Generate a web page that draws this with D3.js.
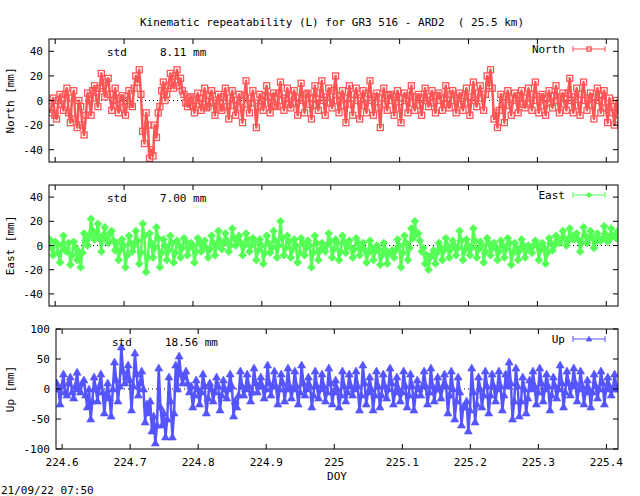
<!DOCTYPE html>
<html><head><meta charset="utf-8">
<script src="https://cdn.jsdelivr.net/npm/d3@7"></script>
<style>body{margin:0;background:#fff}text{font-family:"DejaVu Sans Mono",monospace;font-size:11px;white-space:pre}</style>
</head><body><svg id="c" width="640" height="496"></svg>
<script>
const doyStart = 224.592, doyStep = 0.005;
const northVals = [-10,2,-15,5,-8,10,-18,8,-22,-5,
-28,6,-12,12,-5,22,3,18,-8,10,
-10,4,-12,8,-5,20,25,-25,-10,-47,
-45,-30,-5,15,5,22,10,25,18,5,
-5,3,-10,6,-8,10,-5,8,-12,5,
-8,10,-15,8,-12,5,-18,16,-10,8,
-22,5,-8,12,-10,6,-5,15,-8,10,
-6,8,-12,14,-10,6,-15,12,-8,16,
-12,10,-6,20,-10,8,-18,12,-12,10,
-15,8,-10,16,-12,6,-22,10,-8,5,
-12,8,-18,6,-10,12,-8,5,-12,10,
-5,8,-10,6,-8,12,-6,8,-10,6,
-8,10,-12,15,-5,12,-8,20,25,-15,
-22,5,-18,8,-12,6,-10,8,-6,10,
-8,15,-10,5,-12,8,-6,12,-10,6,
-8,18,-10,10,-12,15,-8,6,-15,10,
-10,8,-18,-5,-20,-8];
const northValsHalf = [-5,-12,0,-3,5,-10,2,-15,0,-20,
-12,0,8,2,10,12,15,5,0,-4,
2,-6,0,-3,10,15,5,-35,-20,-40,
-20,-10,8,0,12,15,20,12,8,-2,
2,-4,0,-3,2,-6,4,-2,0,-6,
3,-5,2,-4,0,-6,4,-3,2,-2,
-5,0,4,-2,3,-4,6,0,2,-3,
4,-2,2,0,5,-3,2,-4,6,0,
3,-2,8,0,4,-4,2,-3,5,0,
2,-4,6,0,3,-6,2,-3,4,0,
3,-6,2,0,4,-2,3,-4,2,0,
3,-2,4,0,2,-3,5,0,2,-3,
4,-2,3,0,6,2,5,12,10,-10,
-8,-2,3,-4,2,0,4,-3,2,-2,
5,0,3,-4,2,-2,4,0,3,-3,
6,0,3,-4,5,0,2,-4,3,0,
4,-6,2,-10,0,-12];
const eastVals = [5,-8,2,-14,8,-5,-16,3,-12,-18,
10,0,22,5,18,-5,15,2,12,-4,
-12,5,-18,8,-5,12,-15,18,-22,10,
-10,15,-18,5,-12,8,-14,4,-10,6,
-8,2,-14,6,-5,4,-10,8,-8,12,
-3,10,-5,14,0,8,-8,10,-5,6,
-12,5,-15,8,-6,12,-10,20,-8,8,
-10,5,-14,6,-8,4,-18,8,-12,2,
-5,10,-10,5,-12,8,-6,4,-10,6,
-8,2,-14,4,-12,0,-16,2,-15,-6,
-10,5,-18,8,-12,14,20,10,-5,-15,
-20,-8,-15,2,-12,6,-10,4,-8,12,
-12,5,-8,14,-10,3,-14,6,-8,2,
-12,4,-10,6,-16,2,-12,5,-10,0,
-6,4,-12,2,-15,6,-4,8,2,12,
0,14,5,10,-5,15,2,12,-2,10,
4,16,3,14,8,12];
const eastValsHalf = [-2,3,-6,0,-4,2,-8,-2,-5,-6,
4,8,12,10,6,8,5,10,4,2,
-4,0,-8,2,0,4,-6,8,-10,2,
-2,6,-6,0,-4,2,-6,0,-2,3,
-2,0,-5,2,0,-2,-3,2,0,4,
2,4,0,6,3,2,0,5,0,2,
-4,0,-6,2,-2,4,0,6,-2,3,
-3,0,-6,2,-2,0,-6,2,-4,0,
0,3,-3,2,-5,3,0,-2,-3,2,
-2,-4,-6,-2,-5,-3,-8,-4,-6,-4,
-4,0,-6,2,-2,6,10,4,-2,-8,
-10,-4,-6,-2,-4,0,-3,0,-2,4,
-4,0,-2,4,-3,0,-5,2,-2,-2,
-5,0,-3,2,-6,-2,-4,0,-3,-2,
0,0,-4,-2,-6,2,0,4,5,6,
4,8,6,5,2,8,6,7,3,5,
6,9,5,8,6,10];
const upVals = [10,-25,25,-10,20,-15,28,-5,15,-30,
-50,20,-20,25,-40,10,-45,45,-20,70,
10,40,-35,60,-10,30,-55,-40,-70,-90,
35,-60,-80,20,-80,40,55,10,30,-5,
-30,15,-25,25,-40,10,-20,20,-35,15,
-15,25,-45,-30,30,-10,25,-20,35,-5,
20,-15,40,-10,30,-25,25,-20,35,-15,
30,-25,40,-10,20,-30,30,-15,25,-20,
35,-25,15,-30,30,-20,25,-10,30,-35,
40,-25,20,-35,30,-30,25,-15,35,-25,
20,-20,30,-30,25,-35,15,-10,30,-25,
35,-20,20,-15,25,-40,30,-50,20,-60,
-30,-70,35,-55,20,-30,30,-40,25,-20,
30,-35,25,45,-50,35,-45,20,-40,15,
30,-25,35,-20,25,-35,20,-15,40,-30,
30,-10,35,-20,30,-25,15,-30,25,-15,
30,-25,20,-10,25,0];
const upValsHalf = [0,5,-5,10,-5,5,0,10,-10,0,
-20,0,5,-5,-10,-15,0,15,5,30,
20,15,5,25,10,0,-25,-20,-45,-60,
-30,-40,-50,-20,-40,0,25,20,10,5,
-10,0,-5,5,-15,0,-5,5,-10,0,
0,5,-20,-10,5,0,5,-5,10,5,
5,0,10,5,5,0,10,0,5,0,
5,-5,10,0,5,-10,5,0,5,-5,
10,-5,0,-10,5,-5,5,0,5,-10,
10,-5,0,-10,5,-10,5,0,10,-5,
0,-5,5,-10,5,-10,0,5,5,-5,
5,0,0,5,5,-10,0,-20,-5,-30,
-20,-35,-5,-25,0,-10,5,-10,5,0,
5,-10,5,10,-20,5,-20,0,-15,0,
5,-5,10,0,5,-10,5,0,10,-5,
10,5,10,0,5,-5,0,-5,5,0,
10,0,5,0,5,5];
const xTicks = [224.6,224.7,224.8,224.9,225,225.1,225.2,225.3,225.4];
const xTickLabels = ["224.6","224.7","224.8","224.9","225","225.1","225.2","225.3","225.4"];
const nsTicks = [-40,-20,0,20,40];
const upTicks = [-100,-50,0,50,100];

const svg = d3.select("#c");
svg.append("text").attr("x",332).attr("y",26).attr("text-anchor","middle")
  .text("Kinematic repeatability (L) for GR3 516 - ARD2  ( 25.5 km)");

const panels = [
 {vals:northVals,half:northValsHalf,name:"North",lab:"North [mm]",std:"std     8.11 mm",col:"#ff5555",mk:"sq",
  l:49,r:618,t:39,b:162,dom:[-50,50],ticks:nsTicks,stdx:107},
 {vals:eastVals,half:eastValsHalf,name:"East",lab:"East [mm]",std:"std     7.00 mm",col:"#55ff55",mk:"dia",
  l:49,r:618,t:185,b:306,dom:[-50,50],ticks:nsTicks,stdx:107},
 {vals:upVals,half:upValsHalf,name:"Up",lab:"Up [mm]",std:"std     18.56 mm",col:"#5555ff",mk:"tri",
  l:56,r:618,t:329,b:449,dom:[-100,100],ticks:upTicks,stdx:112,xl:true}
];
const dx = [224.591,225.417];
function marker(g,type,x,y,col,s){
  s = s||1;
  if(type==="sq") g.append("rect").attr("x",x-3*s).attr("y",y-3*s).attr("width",6*s).attr("height",6*s).attr("fill","none").attr("stroke",col).attr("stroke-width",1.3);
  else if(type==="dia") g.append("path").attr("d",`M${x},${y-4*s}L${x+4*s},${y}L${x},${y+4*s}L${x-4*s},${y}Z`).attr("fill",col).attr("stroke",col).attr("stroke-width",0.6);
  else g.append("path").attr("d",`M${x},${y-4*s}L${x+4*s},${y+3*s}L${x-4*s},${y+3*s}Z`).attr("fill",col).attr("stroke",col).attr("stroke-width",0.6);
}
panels.forEach((p,pi)=>{
  const x = d3.scaleLinear().domain(dx).range([p.l,p.r]);
  const y = d3.scaleLinear().domain(p.dom).range([p.b,p.t]);
  const id="clip"+pi;
  svg.append("clipPath").attr("id",id).append("rect").attr("x",p.l).attr("y",p.t).attr("width",p.r-p.l).attr("height",p.b-p.t);
  svg.append("line").attr("x1",p.l).attr("x2",p.r).attr("y1",y(0)).attr("y2",y(0)).attr("stroke","#000").attr("stroke-dasharray","1,3");
  const data = [];
  p.vals.forEach((v,i)=>{
    data.push([doyStart+i*doyStep,v]);
    if(i<p.half.length) data.push([doyStart+(i+0.5)*doyStep,p.half[i]]);
  });
  const g = svg.append("g").attr("clip-path",`url(#${id})`);
  g.append("path").attr("d",d3.line().x(d=>x(d[0])).y(d=>y(d[1]))(data)).attr("fill","none").attr("stroke",p.col).attr("stroke-width",2.5).attr("stroke-linejoin","round");
  data.forEach(d=>marker(g,p.mk,x(d[0]),y(d[1]),p.col));
  svg.append("rect").attr("x",p.l).attr("y",p.t).attr("width",p.r-p.l).attr("height",p.b-p.t).attr("fill","none").attr("stroke","#000");
  p.ticks.forEach(t=>{
    svg.append("line").attr("x1",p.l).attr("x2",p.l+5).attr("y1",y(t)).attr("y2",y(t)).attr("stroke","#000");
    svg.append("line").attr("x1",p.r-5).attr("x2",p.r).attr("y1",y(t)).attr("y2",y(t)).attr("stroke","#000");
    svg.append("text").attr("x",p.l-6).attr("y",y(t)+4).attr("text-anchor","end").text(t);
  });
  xTicks.forEach((t,i)=>{
    svg.append("line").attr("x1",x(t)).attr("x2",x(t)).attr("y1",p.b).attr("y2",p.b-5).attr("stroke","#000");
    svg.append("line").attr("x1",x(t)).attr("x2",x(t)).attr("y1",p.t).attr("y2",p.t+5).attr("stroke","#000");
    if(p.xl) svg.append("text").attr("x",x(t)).attr("y",p.b+17).attr("text-anchor","middle").text(xTickLabels[i]);
  });
  svg.append("text").attr("transform",`translate(14,${(p.t+p.b)/2}) rotate(-90)`).attr("text-anchor","middle").text(p.lab);
  svg.append("text").attr("x",p.stdx).attr("y",p.t+17).text(p.std);
  const ly = p.t+10;
  svg.append("text").attr("x",565).attr("y",ly+4).attr("text-anchor","end").text(p.name);
  svg.append("line").attr("x1",573).attr("x2",605).attr("y1",ly).attr("y2",ly).attr("stroke",p.col);
  svg.append("line").attr("x1",573).attr("x2",573).attr("y1",ly-3).attr("y2",ly+3).attr("stroke",p.col);
  svg.append("line").attr("x1",605).attr("x2",605).attr("y1",ly-3).attr("y2",ly+3).attr("stroke",p.col);
  marker(svg,p.mk,589,ly,p.col,0.7);
});
svg.append("text").attr("x",337).attr("y",480).attr("text-anchor","middle").text("DOY");
svg.append("text").attr("x",1).attr("y",494).text("21/09/22 07:50");
</script></body></html>
